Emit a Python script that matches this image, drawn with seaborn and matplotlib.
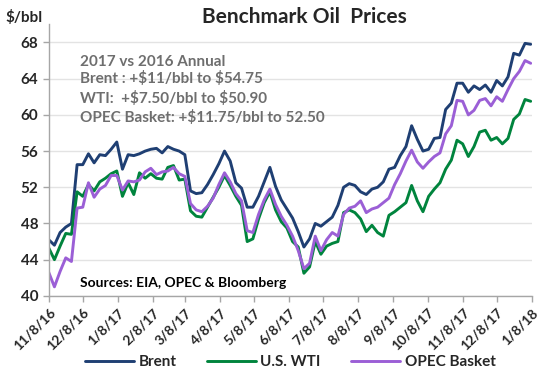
import numpy as np
import pandas as pd
import matplotlib
matplotlib.use("Agg")
import matplotlib.pyplot as plt
import matplotlib.dates as mdates
import seaborn as sns

# values, one point every 5 days from 11/8/16
start_date = "2016-11-08"
step_days = 5

brent = [46.2, 45.6, 47.0, 47.6, 48.0, 54.5, 54.5, 55.7, 54.7, 55.6,
         55.5, 56.2, 57.0, 54.0, 55.6, 55.5, 55.7, 56.0, 56.2, 56.3,
         55.8, 56.5, 56.2, 56.0, 55.6, 51.6, 51.3, 51.4, 52.3, 53.4,
         54.6, 56.0, 54.9, 52.5, 51.9, 49.8, 49.8, 51.0, 52.6, 54.2,
         52.1, 50.6, 49.6, 48.6, 47.1, 45.4, 46.3, 48.0, 47.7, 48.2,
         48.7, 50.0, 52.0, 52.4, 52.2, 51.5, 51.2, 51.8, 52.0, 52.6,
         54.0, 54.2, 55.5, 56.5, 58.8, 57.3, 56.0, 56.2, 57.4, 57.5,
         60.6, 61.3, 63.5, 63.5, 62.5, 63.2, 62.8, 63.3, 62.5, 63.8,
         63.2, 64.2, 66.8, 66.6, 67.9, 67.8]

wti = [45.3, 44.0, 45.5, 46.9, 46.8, 51.5, 51.0, 52.3, 51.6, 52.6,
       53.0, 53.5, 53.8, 51.0, 52.5, 51.2, 53.6, 53.0, 53.5, 53.0,
       52.9, 54.2, 54.4, 52.8, 52.9, 49.4, 48.8, 48.7, 49.8, 50.9,
       52.0, 53.3, 52.2, 51.0, 50.0, 46.0, 46.3, 48.5, 50.3, 51.5,
       49.5, 48.2, 47.5, 46.0, 45.4, 42.5, 43.2, 46.0, 44.6, 45.5,
       45.8, 46.0, 49.2, 49.5, 49.2, 48.5, 47.1, 47.8, 47.0, 46.6,
       48.9, 49.3, 49.8, 50.3, 52.2, 50.5, 49.3, 51.0, 51.8, 52.5,
       54.0, 55.0, 57.2, 56.8, 55.4, 56.5, 58.1, 58.3, 57.2, 57.5,
       56.8, 57.4, 59.5, 60.1, 61.7, 61.5]

opec = [42.6, 41.0, 42.7, 44.2, 43.8, 49.7, 49.8, 52.5, 50.9, 51.8,
        52.2, 53.3, 53.3, 51.7, 52.7, 52.6, 52.8, 53.7, 54.1, 53.4,
        53.7, 53.8, 54.2, 53.5, 53.2, 50.2, 49.5, 49.3, 49.9, 50.8,
        52.3, 53.6, 52.6, 51.3, 50.5, 47.2, 47.0, 49.0, 50.6, 51.8,
        50.1, 48.8, 47.8, 46.6, 45.0, 43.0, 43.6, 46.6, 45.0, 46.2,
        47.0, 46.6, 49.0, 49.7, 49.9, 50.5, 49.2, 49.6, 49.8, 50.3,
        50.8, 52.3, 53.5, 54.9, 56.1, 54.8, 54.1, 54.8, 55.4, 55.8,
        57.9, 58.8, 61.6, 61.5, 60.0, 60.5, 61.6, 61.8, 61.0, 62.0,
        61.5, 62.8, 64.0, 64.8, 66.0, 65.7]

series_names = ["Brent", "U.S. WTI", "OPEC Basket"]
colors = ["#1F3F73", "#00843D", "#9B5FD6"]
y_ticks = [40, 44, 48, 52, 56, 60, 64, 68]
tick_dates = [pd.Timestamp("2016-11-08") + pd.DateOffset(months=m) for m in range(15)]

notes = ["2017 vs 2016 Annual",
         r"Brent : +\$11/bbl to \$54.75",
         r"WTI:  +\$7.50/bbl to \$50.90",
         r"OPEC Basket: +\$11.75/bbl to 52.50"]

dates = pd.date_range(start_date, periods=len(brent), freq=f"{step_days}D")
df = pd.DataFrame({"date": dates, "Brent": brent, "U.S. WTI": wti, "OPEC Basket": opec})
long = df.melt(id_vars="date", var_name="series", value_name="price")

sns.set_theme(style="white")
plt.rcParams["font.family"] = ["Lato", "DejaVu Sans"]

fig = plt.figure(figsize=(5.54, 3.75), dpi=100)
ax_bottom = 0.211
ax_height = 0.724
ax = fig.add_axes([0.088, ax_bottom, 0.872, ax_height])

sns.lineplot(data=long, x="date", y="price", hue="series", hue_order=series_names,
             palette=colors, linewidth=2.1, ax=ax, legend=True)

ax.set_xlim(pd.Timestamp("2016-11-08"), pd.Timestamp("2018-01-08"))
ax.set_ylim(40, 70)
ax.set_yticks(y_ticks)
ax.set_xticks(tick_dates)
ax.xaxis.set_major_formatter(mdates.DateFormatter("%-m/%-d/%y"))
ax.set_xlabel("")
ax.set_ylabel("")
ax.yaxis.grid(True, color="#E3E3E3", linewidth=1)
ax.set_axisbelow(True)

for s in ["top", "right"]:
    ax.spines[s].set_visible(False)
for s in ["left", "bottom"]:
    ax.spines[s].set_color("#A6A6A6")
    ax.spines[s].set_linewidth(1)

ax.tick_params(axis="both", which="major", direction="out", length=4, width=1,
               color="#A6A6A6", left=True, bottom=True)
for lab in ax.get_yticklabels():
    lab.set_fontsize(11)
    lab.set_fontweight("bold")
for lab in ax.get_xticklabels():
    lab.set_fontsize(10)
    lab.set_fontweight("bold")
    lab.set_rotation(45)
    lab.set_ha("right")
    lab.set_rotation_mode("anchor")

fig.text(0.55, 0.955, "Benchmark Oil  Prices", ha="center", va="center",
         fontsize=15, fontweight="bold")
fig.text(0.01, 0.952, "$/bbl", ha="left", va="center", fontsize=11, fontweight="bold")

note_y = [61.7, 78.5, 98.3, 117.8]
for txt, py in zip(notes, note_y):
    fig.text(80 / 554, 1 - py / 375, txt, ha="left", va="center",
             fontsize=11, fontweight="bold", color="#6E6E6E")

fig.text(80 / 554, 1 - 283 / 375, "Sources: EIA, OPEC & Bloomberg", ha="left",
         va="center", fontsize=10, fontweight="bold", color="black")

legend_y = (1 - 362 / 375 - ax_bottom) / ax_height
handles, labels = ax.get_legend_handles_labels()
ax.legend(handles, labels, loc="center", bbox_to_anchor=(0.5, legend_y),
          ncol=3, frameon=False, handlelength=3.2, columnspacing=2.0,
          handletextpad=0.3, prop={"weight": "bold", "size": 11})

fig.savefig("out.png", dpi=100)
